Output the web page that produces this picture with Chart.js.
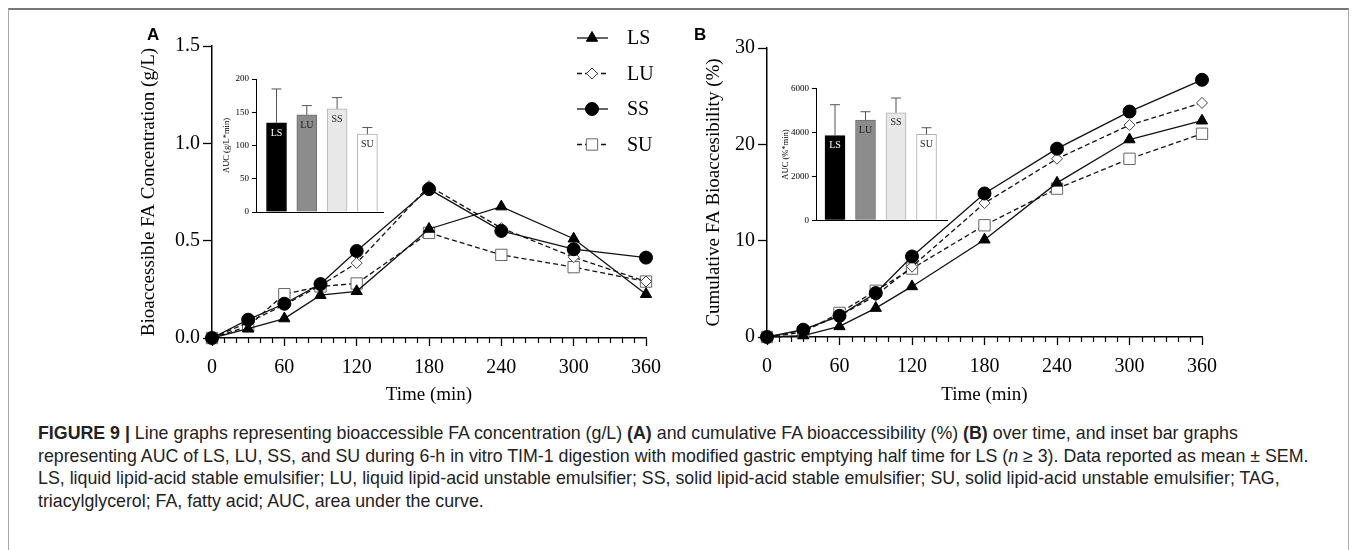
<!DOCTYPE html>
<html>
<head>
<meta charset="utf-8">
<script src="https://cdn.jsdelivr.net/npm/chart.js@4.4.1/dist/chart.umd.min.js"></script>
<style>
  body { margin: 0; width: 1357px; height: 550px; background: #fff; position: relative; overflow: hidden; }
  canvas { position: absolute; }
  #frame { position: absolute; left: 8px; top: 8px; width: 1339px; height: 560px;
           border-top: 2px solid #777; border-left: 1px solid #aaa; border-right: 1px solid #aaa; }
  .panel { position: absolute; font: bold 17px "Liberation Sans", Arial, sans-serif; line-height: 20px; color: #000; }
  #caption { position: absolute; left: 38px; top: 422px; font: 17.8px "Liberation Sans", Arial, sans-serif;
             line-height: 22.5px; color: #222; white-space: nowrap; }
</style>
</head>
<body>
<div id="frame"></div>
<canvas id="chartA" width="680" height="420" style="left:0;top:0"></canvas>
<canvas id="chartB" width="677" height="420" style="left:680px;top:0"></canvas>
<canvas id="insetA" width="215" height="170" style="left:190px;top:60px"></canvas>
<canvas id="insetB" width="215" height="170" style="left:750px;top:70px"></canvas>
<div class="panel" style="left:147px;top:25px">A</div>
<div class="panel" style="left:694px;top:25px">B</div>
<div id="caption">
  <div><b>FIGURE 9 |</b> Line graphs representing bioaccessible FA concentration (g/L) <b>(A)</b> and cumulative FA bioaccessibility (%) <b>(B)</b> over time, and inset bar graphs</div>
  <div>representing AUC of LS, LU, SS, and SU during 6-h in vitro TIM-1 digestion with modified gastric emptying half time for LS (<i>n</i> &ge; 3). Data reported as mean &plusmn; SEM.</div>
  <div>LS, liquid lipid-acid stable emulsifier; LU, liquid lipid-acid unstable emulsifier; SS, solid lipid-acid stable emulsifier; SU, solid lipid-acid unstable emulsifier; TAG,</div>
  <div>triacylglycerol; FA, fatty acid; AUC, area under the curve.</div>
</div>
<script>
// valeurs
const times = [0, 30, 60, 90, 120, 180, 240, 300, 360];
const timeTicks = [0, 60, 120, 180, 240, 300, 360];
const groups = ['LS', 'LU', 'SS', 'SU'];

const lsConc = [0, 0.048, 0.10, 0.22, 0.24, 0.56, 0.675, 0.51, 0.225];
const luConc = [0, 0.08, 0.17, 0.27, 0.385, 0.78, 0.565, 0.415, 0.29];
const ssConc = [0, 0.094, 0.176, 0.277, 0.447, 0.765, 0.55, 0.456, 0.413];
const suConc = [0, 0.06, 0.225, 0.265, 0.28, 0.54, 0.427, 0.364, 0.29];
const concTicks = [0, 0.5, 1.0, 1.5];
const concTickLabels = ['0.0', '0.5', '1.0', '1.5'];

const lsCum = [0, 0.15, 1.1, 3.0, 5.25, 10.1, 16.0, 20.5, 22.45];
const luCum = [0, 0.7, 2.2, 4.3, 7.3, 13.9, 18.5, 22.0, 24.3];
const ssCum = [0, 0.76, 2.2, 4.56, 8.36, 14.9, 19.55, 23.4, 26.7];
const suCum = [0, 0.5, 2.5, 4.8, 7.1, 11.6, 15.4, 18.5, 21.1];
const cumTicks = [0, 10, 20, 30];
const cumTickLabels = ['0', '10', '20', '30'];

const aucConc = [134, 146, 155, 117];
const aucConcSem = [51, 14, 17, 10];
const aucConcTicks = [0, 50, 100, 150, 200];
const aucConcTickLabels = ['0', '50', '100', '150', '200'];
const aucCum = [3860, 4570, 4905, 3920];
const aucCumSem = [1410, 380, 670, 300];
const aucCumTicks = [0, 2000, 4000, 6000];
const aucCumTickLabels = ['0', '2000', '4000', '6000'];

const serif = '"Liberation Serif", "Times New Roman", serif';
Chart.defaults.color = '#000';
Chart.defaults.font.family = serif;

const styles = {
  LS: { pointStyle: 'triangle', radius: 6.5, fill: '#000', stroke: '#000', dash: [] },
  LU: { pointStyle: 'rectRot', radius: 5.5, fill: '#fff', stroke: '#444', dash: [5, 3] },
  SS: { pointStyle: 'circle', radius: 6.5, fill: '#000', stroke: '#000', dash: [] },
  SU: { pointStyle: 'rect', radius: 8, fill: '#fff', stroke: '#666', dash: [5, 3] }
};
const drawOrder = { LS: 2, LU: 3, SS: 1, SU: 4 };

function lineSet(name, values) {
  const s = styles[name];
  return {
    label: name,
    data: times.map((t, i) => ({ x: t, y: values[i] })),
    borderColor: '#111',
    borderWidth: 1.3,
    borderDash: s.dash,
    pointStyle: s.pointStyle,
    pointRadius: s.radius,
    pointBackgroundColor: s.fill,
    pointBorderColor: s.stroke,
    pointBorderWidth: 1,
    tension: 0,
    clip: false,
    order: drawOrder[name]
  };
}

const minorTicks = {
  id: 'minorTicks',
  afterDraw(chart) {
    const { ctx, chartArea } = chart;
    const x = chart.scales.x;
    ctx.save();
    ctx.strokeStyle = '#000';
    ctx.lineWidth = 1.2;
    for (let v = 10; v < 360; v += 10) {
      if (v % 60 === 0) continue;
      const px = Math.round(x.getPixelForValue(v)) + 0.5;
      ctx.beginPath();
      ctx.moveTo(px, chartArea.bottom);
      ctx.lineTo(px, chartArea.bottom + 5);
      ctx.stroke();
    }
    ctx.restore();
  }
};

function marker(ctx, name, x, y) {
  const s = styles[name];
  ctx.fillStyle = s.fill;
  ctx.strokeStyle = s.stroke;
  ctx.lineWidth = 1;
  ctx.setLineDash([]);
  Chart.helpers.drawPoint(ctx, { pointStyle: s.pointStyle, radius: s.radius, rotation: 0, borderWidth: 1 }, x, y);
}

const seriesLegend = {
  id: 'seriesLegend',
  afterDraw(chart) {
    const ctx = chart.ctx;
    ctx.save();
    groups.forEach((g, i) => {
      const y = 38 + i * 35.5;
      ctx.strokeStyle = '#111';
      ctx.lineWidth = 1.3;
      ctx.setLineDash(styles[g].dash);
      ctx.beginPath();
      ctx.moveTo(577, y);
      ctx.lineTo(608, y);
      ctx.stroke();
      marker(ctx, g, 592, y);
      ctx.fillStyle = '#000';
      ctx.font = '20px ' + serif;
      ctx.textBaseline = 'middle';
      ctx.fillText(g, 627, y + 1);
    });
    ctx.restore();
  }
};

function mainChart(id, cfg) {
  return new Chart(document.getElementById(id), {
    type: 'line',
    data: { datasets: cfg.datasets },
    options: {
      responsive: false,
      animation: false,
      devicePixelRatio: 1,
      layout: { padding: cfg.padding },
      plugins: { legend: { display: false }, tooltip: { enabled: false } },
      scales: {
        x: {
          type: 'linear', min: 0, max: 360,
          afterBuildTicks: s => { s.ticks = timeTicks.map(v => ({ value: v })); },
          ticks: { font: { size: 20 }, padding: 10, maxRotation: 0, autoSkip: false },
          grid: { drawOnChartArea: false, tickLength: 8, color: '#000', tickWidth: 1.3 },
          border: { color: '#000', width: 1.5 },
          title: { display: true, text: 'Time (min)', font: { size: 19 }, padding: { top: 0, bottom: 13.6 } },
          afterFit: s => { s.height = cfg.xHeight; }
        },
        y: {
          min: 0, max: cfg.yMax,
          afterBuildTicks: s => { s.ticks = cfg.yTicks.map(v => ({ value: v })); },
          ticks: { font: { size: 20 }, padding: 3, callback: (v, i) => cfg.yLabels[i] },
          grid: { drawOnChartArea: false, tickLength: 9, color: '#000', tickWidth: 1.3 },
          border: { color: '#000', width: 1.5 },
          title: { display: true, text: cfg.yTitle, font: { size: 19 }, padding: { top: cfg.titlePad, bottom: 0 } },
          afterFit: s => { s.width = cfg.yWidth; }
        }
      }
    },
    plugins: [minorTicks].concat(cfg.plugins || [])
  });
}

mainChart('chartA', {
  datasets: [lineSet('LS', lsConc), lineSet('LU', luConc), lineSet('SS', ssConc), lineSet('SU', suConc)],
  padding: { left: 0, top: 46, right: 34, bottom: 0 },
  yWidth: 212, xHeight: 82, titlePad: 137.6,
  yMax: 1.5, yTicks: concTicks, yLabels: concTickLabels,
  yTitle: 'Bioaccessible FA Concentration (g/L)',
  plugins: [seriesLegend]
});

mainChart('chartB', {
  datasets: [lineSet('LS', lsCum), lineSet('LU', luCum), lineSet('SS', ssCum), lineSet('SU', suCum)],
  padding: { left: 0, top: 48, right: 155, bottom: 0 },
  yWidth: 87, xHeight: 83, titlePad: 22.6,
  yMax: 30, yTicks: cumTicks, yLabels: cumTickLabels,
  yTitle: 'Cumulative FA Bioaccesibility (%)'
});

const barFills = ['#000', '#8c8c8c', '#e8e8e8', '#fff'];
const barEdges = ['#000', '#6e6e6e', '#b0b0b0', '#b0b0b0'];

function barExtras(sem) {
  return {
    id: 'barExtras',
    afterDatasetsDraw(chart) {
      const ctx = chart.ctx;
      const y = chart.scales.y;
      const ds = chart.data.datasets[0];
      const bars = chart.getDatasetMeta(0).data;
      ctx.save();
      ctx.strokeStyle = '#555';
      ctx.lineWidth = 1;
      bars.forEach((bar, i) => {
        const top = y.getPixelForValue(ds.data[i].y + sem[i]);
        ctx.beginPath();
        ctx.moveTo(bar.x, bar.y);
        ctx.lineTo(bar.x, top);
        ctx.moveTo(bar.x - 5, top);
        ctx.lineTo(bar.x + 5, top);
        ctx.stroke();
        ctx.fillStyle = i === 0 ? '#fff' : '#222';
        ctx.font = '10px ' + serif;
        ctx.textAlign = 'center';
        ctx.textBaseline = 'middle';
        ctx.fillText(groups[i], bar.x, bar.y + 10);
      });
      ctx.restore();
    }
  };
}

function insetChart(id, cfg) {
  return new Chart(document.getElementById(id), {
    type: 'bar',
    data: {
      datasets: [{
        data: cfg.values.map((v, i) => ({ x: i, y: v })),
        backgroundColor: barFills,
        borderColor: barEdges,
        borderWidth: 1,
        barThickness: 20
      }]
    },
    options: {
      responsive: false,
      animation: false,
      devicePixelRatio: 1,
      layout: { padding: cfg.padding },
      plugins: { legend: { display: false }, tooltip: { enabled: false } },
      scales: {
        x: {
          type: 'linear', min: cfg.xMin, max: cfg.xMax, offset: false,
          ticks: { display: false },
          grid: { drawOnChartArea: false, drawTicks: false },
          border: { color: '#000', width: 1 },
          afterFit: s => { s.height = cfg.xHeight; }
        },
        y: {
          min: 0, max: cfg.yMax,
          afterBuildTicks: s => { s.ticks = cfg.yTicks.map(v => ({ value: v })); },
          ticks: { font: { size: 9 }, padding: 3, callback: (v, i) => cfg.yLabels[i] },
          grid: { drawOnChartArea: false, tickLength: 4, color: '#000' },
          border: { color: '#000', width: 1 },
          title: { display: true, text: cfg.title, font: { size: 8.5 }, padding: { top: cfg.titlePad, bottom: 0 } },
          afterFit: s => { s.width = cfg.yWidth; }
        }
      }
    },
    plugins: [barExtras(cfg.sem)]
  });
}

insetChart('insetA', {
  values: aucConc, sem: aucConcSem,
  padding: { left: 0, top: 19, right: 22, bottom: 0 },
  yWidth: 66, xHeight: 18, titlePad: 31.6,
  xMin: -0.677, xMax: 3.515,
  yMax: 200, yTicks: aucConcTicks, yLabels: aucConcTickLabels, title: 'AUC (g/L*min)'
});

insetChart('insetB', {
  values: aucCum, sem: aucCumSem,
  padding: { left: 0, top: 18.7, right: 18, bottom: 0 },
  yWidth: 66, xHeight: 19.7, titlePad: 30.6,
  xMin: -0.623, xMax: 3.672,
  yMax: 6000, yTicks: aucCumTicks, yLabels: aucCumTickLabels, title: 'AUC (%*min)'
});
</script>
</body>
</html>
